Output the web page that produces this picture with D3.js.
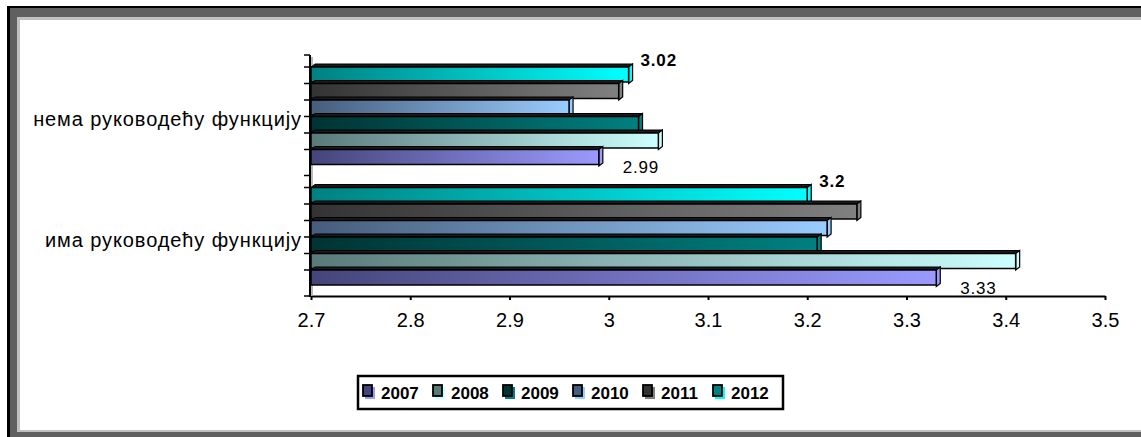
<!DOCTYPE html>
<html><head><meta charset="utf-8">
<script src="https://cdn.jsdelivr.net/npm/d3@7"></script>
<style>body{margin:0;background:#fff}svg{display:block}</style>
</head><body>
<svg id="c" width="1141" height="437"></svg>
<script>
const categories = ["нема руководећу функцију", "има руководећу функцију"];
const years = ["2007", "2008", "2009", "2010", "2011", "2012"];
const values2007 = [2.99, 3.33];
const values2008 = [3.05, 3.41];
const values2009 = [3.03, 3.21];
const values2010 = [2.96, 3.22];
const values2011 = [3.01, 3.25];
const values2012 = [3.02, 3.20];
const xTicks = [2.7, 2.8, 2.9, 3.0, 3.1, 3.2, 3.3, 3.4, 3.5];
const xTickLabels = ["2.7", "2.8", "2.9", "3", "3.1", "3.2", "3.3", "3.4", "3.5"];
const seriesValues = [values2007, values2008, values2009, values2010, values2011, values2012];
const gradStops = [["#45457a","#9a9aff"],["#5a7a7a","#ccffff"],["#003333","#008080"],["#465d7c","#99ccff"],["#333333","#808080"],["#008080","#00ffff"]];
// data labels: [seriesIndex, categoryIndex, bold]
const dataLabels = [[5,0,true],[0,0,false],[5,1,true],[0,1,false]];

const FONT = "Arial, 'Liberation Sans', sans-serif";
const svg = d3.select("#c");
const defs = svg.append("defs");
gradStops.forEach((g,i)=>{
  const lg = defs.append("linearGradient").attr("id","g"+i).attr("x1","0").attr("x2","1").attr("y1","0").attr("y2","0");
  lg.append("stop").attr("offset","0").attr("stop-color",g[0]);
  lg.append("stop").attr("offset","1").attr("stop-color",g[1]);
});

// frame
svg.append("rect").attr("x",7).attr("y",6).attr("width",1141).attr("height",3).attr("fill","#000");
svg.append("rect").attr("x",7).attr("y",6).attr("width",3).attr("height",437).attr("fill","#000");
svg.append("rect").attr("x",10).attr("y",8).attr("width",1141).attr("height",9).attr("fill","#606060");
svg.append("rect").attr("x",10).attr("y",8).attr("width",7).attr("height",437).attr("fill","#606060");
svg.append("rect").attr("x",17).attr("y",17).attr("width",1141).attr("height",3).attr("fill","#c0c0c0");
svg.append("rect").attr("x",17).attr("y",17).attr("width",3).attr("height",437).attr("fill","#c0c0c0");
svg.append("rect").attr("x",17).attr("y",430).attr("width",1141).attr("height",2).attr("fill","#c0c0c0");
svg.append("rect").attr("x",10).attr("y",432).attr("width",1141).attr("height",6).attr("fill","#606060");

const x = d3.scaleLinear().domain([2.7,3.5]).range([311,1105]);
const yCat = d3.scaleBand().domain(categories).range([55,296]);
const yBar = d3.scaleBand().domain(years.slice().reverse()).range([12,111]).paddingInner(0);

// x axis
const xAxis = svg.append("g").attr("transform","translate(0,296)")
  .call(d3.axisBottom(x).tickValues(xTicks).tickFormat((d,i)=>xTickLabels[i]).tickSize(4).tickSizeOuter(0));
xAxis.select(".domain").attr("stroke","#000").attr("stroke-width",2);
xAxis.selectAll(".tick line").attr("stroke","#000").attr("stroke-width",2);
xAxis.selectAll(".tick text").attr("font-family",FONT).attr("font-size",20).attr("fill","#000").attr("dy","1.2em");

// y axis
svg.append("line").attr("x1",310).attr("x2",310).attr("y1",55).attr("y2",297).attr("stroke","#000").attr("stroke-width",2);
svg.append("line").attr("x1",312).attr("x2",312).attr("y1",57).attr("y2",296).attr("stroke","#a0a0a0").attr("stroke-width",1.5);
const yTickPos = [];
categories.forEach(c=>{
  yTickPos.push(yCat(c));
  years.forEach(yr=>yTickPos.push(yCat(c)+yBar(yr)));
});
yTickPos.push(296);
svg.append("g").selectAll("line").data(yTickPos).join("line")
  .attr("x1",304).attr("x2",310).attr("y1",d=>d).attr("y2",d=>d).attr("stroke","#000").attr("stroke-width",1.5);

svg.append("g").selectAll("text").data(categories).join("text")
  .attr("x",302).attr("y",c=>yCat(c)+yCat.bandwidth()/2+11)
  .attr("text-anchor","end").attr("font-family",FONT).attr("font-size",20).attr("letter-spacing",0.9)
  .text(c=>c);

// bars
const dx = 4, dy = 3;
const barsG = svg.append("g");
categories.forEach((c,ci)=>{
  years.slice().reverse().forEach(yr=>{
    const si = years.indexOf(yr);
    const v = seriesValues[si][ci];
    const y0 = yCat(c)+yBar(yr), h = yBar.bandwidth();
    const x0 = x(2.7), x1 = x(v);
    const g = barsG.append("g");
    g.append("polygon").attr("points",[[x0,y0],[x0+dx,y0-dy],[x1+dx,y0-dy],[x1,y0]].join(" "))
      .attr("fill","#1a1a1a").attr("stroke","#000").attr("stroke-width",1);
    g.append("polygon").attr("points",[[x1,y0],[x1+dx,y0-dy],[x1+dx,y0+h-dy],[x1,y0+h]].join(" "))
      .attr("fill",gradStops[si][1]).attr("stroke","#000").attr("stroke-width",1.2);
    g.append("rect").attr("x",x0).attr("y",y0).attr("width",x1-x0).attr("height",h-1.5)
      .attr("fill",`url(#g${si})`).attr("stroke","#000").attr("stroke-width",1.5);
  });
});

// data labels
svg.append("g").selectAll("text").data(dataLabels).join("text")
  .attr("x",d=> d[2] ? x(seriesValues[d[0]][d[1]])+12 : x(seriesValues[d[0]][d[1]])+24)
  .attr("y",d=> d[2] ? yCat(categories[d[1]])+yBar(years[d[0]])-1 : yCat(categories[d[1]])+yBar(years[d[0]])+yBar.bandwidth()+7)
  .attr("font-family",FONT).attr("font-size",17).attr("letter-spacing",0.8)
  .attr("font-weight",d=>d[2]?"bold":"normal")
  .text(d=>{const v=seriesValues[d[0]][d[1]]; return d[2] ? String(+v.toFixed(2)) : v.toFixed(2);});

// legend
const lg = svg.append("g");
lg.append("rect").attr("x",358).attr("y",376).attr("width",425).attr("height",33).attr("fill","#fff").attr("stroke","#000").attr("stroke-width",2.5);
const legendX = d3.scalePoint().domain(years).range([363,713]);
years.forEach((yr,i)=>{
  const lx = legendX(yr);
  lg.append("rect").attr("x",lx+2).attr("y",387).attr("width",10).attr("height",12).attr("fill",gradStops[i][1]);
  lg.append("rect").attr("x",lx).attr("y",385).attr("width",9).attr("height",11).attr("fill",gradStops[i][0]).attr("stroke","#000").attr("stroke-width",1.8);
  lg.append("text").attr("x",lx+18).attr("y",399).attr("font-family",FONT)
    .attr("font-size",17).attr("font-weight","bold").text(yr);
});
</script>
</body></html>
